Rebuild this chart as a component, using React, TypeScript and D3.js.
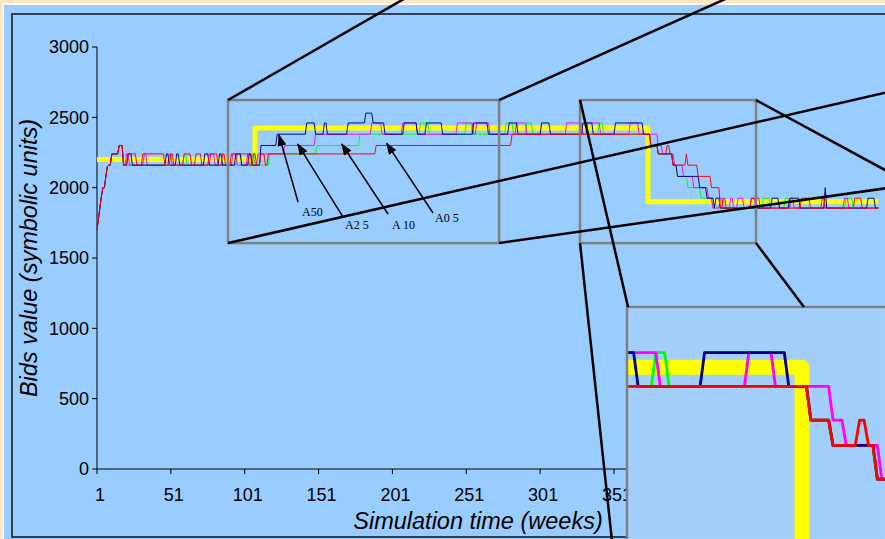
import React from "react";
import * as d3 from "d3";

type Pt = [number, number];

const WIDTH = 885;
const HEIGHT = 539;
const END_WEEK = 530;

// Axis ticks
const xTicks = [1, 51, 101, 151, 201, 251, 301, 351, 401, 451, 501];
const yTicks = [0, 500, 1000, 1500, 2000, 2500, 3000];

// Benchmark (target price) as step points: [week, value]
const benchmark: Pt[] = [
  [1, 2200],
  [108, 2425],
  [374, 1900],
  [530, 1900],
];

// Bids are stored as runs: [first week of the run, bid value]
const startRamp: Pt[] = [
  [1, 1700], [2, 1780], [3, 1860], [4, 1940], [5, 2000], [7, 2080], [8, 2150],
  [9, 2160], [11, 2240], [16, 2300], [19, 2160],
];

const redRuns: Pt[] = [
  ...startRamp,
  [22, 2240], [28, 2160], [32, 2240], [47, 2160], [51, 2240], [53, 2160], [60, 2240],
  [65, 2160], [68, 2240], [72, 2160], [77, 2240], [83, 2160], [86, 2240], [88, 2160],
  [92, 2240], [104, 2160], [107, 2240], [109, 2160], [112, 2240], [115, 2160], [117, 2240],
  [190, 2300], [282, 2380], [376, 2300], [381, 2240], [387, 2300], [389, 2240], [391, 2160],
  [400, 2240], [401, 2160], [408, 2080], [417, 2000], [423, 1855], [425, 1925], [427, 1855],
  [444, 1925], [450, 1855], [478, 1925], [484, 1855], [492, 1925], [494, 1855], [514, 1925],
  [519, 1855],
];

const blueRuns: Pt[] = [
  ...startRamp,
  [22, 2240], [25, 2160], [48, 2240], [50, 2160], [55, 2240], [57, 2160], [74, 2240],
  [77, 2160], [84, 2240], [86, 2160], [95, 2240], [99, 2160], [104, 2240], [106, 2160],
  [112, 2300], [123, 2380], [143, 2460], [149, 2380], [155, 2460], [157, 2380], [171, 2460],
  [183, 2530], [188, 2460], [196, 2380], [209, 2460], [218, 2380], [224, 2460], [235, 2380],
  [256, 2460], [266, 2380], [280, 2460], [286, 2380], [302, 2460], [308, 2380], [330, 2460],
  [337, 2380], [352, 2460], [371, 2380], [376, 2300], [381, 2240], [391, 2160], [394, 2080],
  [409, 2000], [414, 1925], [419, 1855], [420, 1925], [423, 1855], [458, 1925], [463, 1855],
  [470, 1925], [477, 1855], [494, 2000], [495, 1855], [523, 1925], [528, 1855],
];

const magentaRuns: Pt[] = [
  ...startRamp,
  [21, 2240], [23, 2160], [33, 2240], [35, 2160], [50, 2240], [52, 2160], [78, 2240],
  [81, 2160], [93, 2240], [96, 2160], [103, 2240], [106, 2160], [110, 2240], [128, 2300],
  [149, 2380], [187, 2460], [194, 2380], [208, 2460], [218, 2380], [245, 2460], [256, 2380],
  [258, 2460], [267, 2380], [285, 2460], [292, 2380], [319, 2460], [330, 2380], [333, 2460],
  [342, 2380], [362, 2460], [368, 2380], [381, 2300], [384, 2240], [392, 2160], [398, 2080],
  [405, 2000], [415, 1925], [418, 1855], [423, 1925], [425, 1855], [430, 1925], [432, 1855],
  [435, 1925], [439, 1855], [444, 1925], [447, 1855], [471, 1925], [473, 1855], [507, 1925],
  [510, 1855],
];

const greenRuns: Pt[] = [
  ...startRamp,
  [60, 2240], [62, 2160], [96, 2240], [99, 2160], [106, 2240], [108, 2160], [118, 2240],
  [150, 2300], [179, 2380], [220, 2460], [226, 2380], [251, 2460], [255, 2380], [278, 2460],
  [283, 2380], [292, 2460], [296, 2380], [341, 2460], [344, 2380], [376, 2300], [381, 2240],
  [391, 2160], [394, 2080], [401, 2000], [410, 1925], [418, 1855], [452, 1925], [457, 1855],
  [467, 1925], [470, 1855], [508, 1925], [513, 1855],
];

// Drawing order: bottom to top
const agents = [
  { name: "A10", color: "#00ff00", runs: greenRuns },
  { name: "A25", color: "#ff00ff", runs: magentaRuns },
  { name: "A50", color: "#000080", runs: blueRuns },
  { name: "A05", color: "#ff0000", runs: redRuns },
];

// Annotations: label, label anchor [week, value], arrow tail, arrow tip
const agentLabels = ["A50", "A2 5", "A 10", "A0 5"];
const labelAnchors: Pt[] = [[139.8, 1799], [168.9, 1706], [200.7, 1706], [229.8, 1756]];
const arrowTails: Pt[] = [[137.1, 1898], [167.6, 1791], [198, 1813], [228.5, 1820]];
const arrowTips: Pt[] = [[124.2, 2374], [136.9, 2310], [166.7, 2310], [197.1, 2315]];

// Zoom windows: [week from, week to, value low, value high]
const zoomBoxes: [number, number, number, number][] = [
  [89.7, 273.2, 1606, 2623],
  [328, 447.1, 1606, 2623],
];

// Connector lines from zoom-window corners: [w1, v1, w2, v2]
const connectors: [number, number, number, number][] = [
  [89.7, 2623, 219.3, 3405],
  [273.2, 2623, 440, 3405],
  [89.7, 1606, 544.6, 2699],
  [273.2, 1606, 544.6, 2010],
  [328, 2623, 360.5, 1152],
  [328, 1606, 350.3, -576],
  [447.1, 2623, 544.6, 2068],
  [447.1, 1606, 479.6, 1152],
];

// Magnified panel: screen corner, magnification and the data point at its corner
const INSET = { left: 627, top: 307, zoom: 3, week: 334.5, value: 2568 };

const x = d3.scaleLinear().domain([1, 351]).range([97, 614]);
const y = d3.scaleLinear().domain([0, 3000]).range([469, 47]);

const agentLine = d3
  .line<Pt>()
  .x((d) => x(d[0]))
  .y((d) => y(d[1]));

const benchLine = d3
  .line<Pt>()
  .x((d) => x(d[0]))
  .y((d) => y(d[1]))
  .curve(d3.curveStepAfter);

function expandRuns(runs: Pt[]): Pt[] {
  const pts: Pt[] = [];
  runs.forEach(([w, v], i) => {
    const next = i < runs.length - 1 ? runs[i + 1][0] : END_WEEK + 1;
    pts.push([w, v]);
    if (next - 1 > w) pts.push([next - 1, v]);
  });
  return pts;
}

const agentPaths = agents.map((a) => ({ ...a, d: agentLine(expandRuns(a.runs)) || "" }));
const benchPath = benchLine(benchmark) || "";

const SANS = "'Liberation Sans', Arial, Helvetica, sans-serif";
const SERIF = "'Liberation Serif', 'Times New Roman', serif";

function SeriesLayer() {
  return (
    <g fill="none">
      <path d={benchPath} stroke="#ffff00" strokeWidth={5} strokeLinejoin="round" />
      {agentPaths.map((a) => (
        <path key={a.name} d={a.d} stroke={a.color} strokeWidth={0.95} strokeLinejoin="round" />
      ))}
    </g>
  );
}

export default function App() {
  const insetTransform = `translate(${INSET.left},${INSET.top}) scale(${INSET.zoom}) translate(${-x(
    INSET.week
  )},${-y(INSET.value)})`;

  return (
    <div style={{ position: "fixed", left: 0, top: 0 }}>
      <svg width={WIDTH} height={HEIGHT} viewBox={`0 0 ${WIDTH} ${HEIGHT}`} style={{ display: "block" }}>
        <defs>
          <clipPath id="insetClip">
            <rect x={INSET.left} y={INSET.top} width={WIDTH} height={HEIGHT} />
          </clipPath>
          <pattern id="insetDots" width={2} height={2} patternUnits="userSpaceOnUse">
            <rect width={2} height={2} fill="#9dceff" />
            <rect width={1} height={1} fill="#a6d3ff" />
          </pattern>
          <marker
            id="arrowHead"
            viewBox="0 0 12 9"
            refX={11}
            refY={4.5}
            markerWidth={12}
            markerHeight={9}
            markerUnits="userSpaceOnUse"
            orient="auto"
          >
            <path d="M0,0 L12,4.5 L0,9 Z" fill="#000" />
          </marker>
        </defs>

        {/* page and chart backgrounds */}
        <rect width={WIDTH} height={HEIGHT} fill="#ffe8c8" />
        <rect x={2.5} y={3} width={WIDTH} height={HEIGHT} fill="#fff6ea" />
        <rect x={4} y={5} width={WIDTH} height={HEIGHT} fill="#99ccff" />
        <rect x={12} y={14} width={WIDTH} height={523} fill="none" stroke="#111" strokeWidth={1.5} />

        {/* y axis */}
        <g>
          <line x1={x(1)} x2={x(1)} y1={y(0)} y2={y(3000)} stroke="#000" strokeWidth={1} />
          {yTicks.map((t) => (
            <g key={t}>
              <line x1={x(1) - 5} x2={x(1)} y1={y(t)} y2={y(t)} stroke="#000" strokeWidth={1} />
              <text
                x={x(1) - 8}
                y={y(t)}
                dy="0.36em"
                textAnchor="end"
                fontFamily={SANS}
                fontSize={18}
                fill="#000"
              >
                {t}
              </text>
            </g>
          ))}
        </g>

        {/* x axis */}
        <g>
          <line x1={x(1)} x2={x(END_WEEK)} y1={y(0)} y2={y(0)} stroke="#000" strokeWidth={1} />
          {xTicks.map((t) => (
            <g key={t}>
              <line x1={x(t)} x2={x(t)} y1={y(0)} y2={y(0) + 5} stroke="#000" strokeWidth={1} />
              <text
                x={x(t) + 3}
                y={501}
                textAnchor="middle"
                fontFamily={SANS}
                fontSize={18}
                fill="#000"
              >
                {t}
              </text>
            </g>
          ))}
        </g>

        {/* axis titles */}
        <text
          x={478}
          y={529}
          textAnchor="middle"
          fontFamily={SANS}
          fontStyle="italic"
          fontSize={23.5}
          fill="#000"
        >
          Simulation time (weeks)
        </text>
        <text
          transform={`translate(37,${(y(0) + y(3000)) / 2}) rotate(-90)`}
          textAnchor="middle"
          fontFamily={SANS}
          fontStyle="italic"
          fontSize={23.5}
          fill="#000"
        >
          Bids value (symbolic units)
        </text>

        {/* bid series */}
        <SeriesLayer />

        {/* zoom windows */}
        {zoomBoxes.map(([w0, w1, v0, v1], i) => (
          <rect
            key={i}
            x={x(w0)}
            y={y(v1)}
            width={x(w1) - x(w0)}
            height={y(v0) - y(v1)}
            fill="none"
            stroke="#808080"
            strokeWidth={2.5}
          />
        ))}

        {/* agent labels with arrows */}
        {agentLabels.map((label, i) => (
          <g key={label}>
            <line
              x1={x(arrowTails[i][0])}
              y1={y(arrowTails[i][1])}
              x2={x(arrowTips[i][0])}
              y2={y(arrowTips[i][1])}
              stroke="#000"
              strokeWidth={1.5}
              markerEnd="url(#arrowHead)"
            />
            <text
              x={x(labelAnchors[i][0])}
              y={y(labelAnchors[i][1])}
              fontFamily={SERIF}
              fontSize={12}
              fill="#000"
            >
              {label}
            </text>
          </g>
        ))}

        {/* magnified panel of the second window */}
        <g clipPath="url(#insetClip)">
          <rect x={INSET.left} y={INSET.top} width={WIDTH} height={HEIGHT} fill="url(#insetDots)" />
          <g transform={insetTransform}>
            <SeriesLayer />
          </g>
        </g>
        <path
          d={`M${INSET.left},${HEIGHT + 10}V${INSET.top}H${WIDTH + 10}`}
          fill="none"
          stroke="#808080"
          strokeWidth={2.5}
        />

        {/* connector lines */}
        {connectors.map(([w1, v1, w2, v2], i) => (
          <line
            key={i}
            x1={x(w1)}
            y1={y(v1)}
            x2={x(w2)}
            y2={y(v2)}
            stroke="#000"
            strokeWidth={2.5}
          />
        ))}
      </svg>
    </div>
  );
}
